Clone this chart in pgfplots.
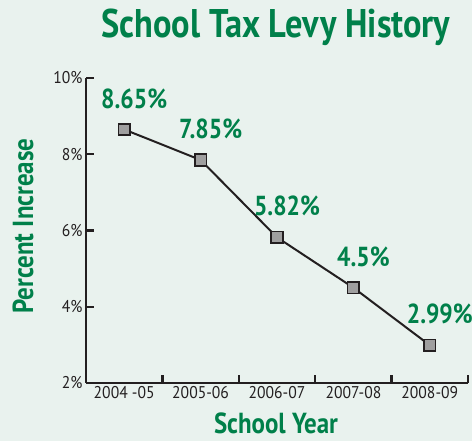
\documentclass[border=0pt]{standalone}
\usepackage{pgfplots}
\pgfplotsset{compat=1.18}
\usepackage{fontspec}
\setmainfont[FakeStretch=0.92]{PT Sans}
\newfontfamily\cond[FakeStretch=0.86]{PT Sans}
\definecolor{bgc}{HTML}{E9F2EE}
\definecolor{grn}{HTML}{00804A}
\definecolor{ink}{HTML}{231F20}
\begin{document}
\begin{tikzpicture}[x=1pt,y=1pt]
\useasboundingbox (0,0) rectangle (472,441);
\fill[bgc] (0,0) rectangle (472,441);
\begin{axis}[
  at={(86pt,58pt)}, anchor=south west,
  scale only axis, width=382pt, height=305pt,
  xmin=-0.5, xmax=4.5, ymin=2, ymax=10,
  axis x line=bottom, axis y line=left,
  axis line style={-, line width=2.2pt, color=ink},
  tick align=inside,
  major tick length=8pt,
  tick style={line width=2.2pt, color=ink},
  xtick={-0.5,0.5,1.5,2.5,3.5,4.5},
  x tick label as interval,
  xticklabels={2004 -05,2005-06,2006-07,2007-08,2008-09},
  ytick={2,4,6,8,10},
  yticklabel={\pgfmathprintnumber{\tick}\%},
  /pgf/number format/assume math mode=true,
  ticklabel style={font=\fontsize{17}{19}\selectfont, text=ink},
  clip=false,
  nodes near coords={\pgfmathprintnumber{\pgfplotspointmeta}\%},
  nodes near coords style={anchor=center, xshift=10pt, yshift=31pt,
     font=\cond\bfseries\fontsize{27.5}{30}\selectfont, text=grn},
]
\addplot[line width=2pt, color=ink, mark=square*,
  mark size=5.8pt,
  mark options={draw=ink, fill=gray!75!white, line width=1.7pt}]
  coordinates {(0,8.65) (1,7.85) (2,5.82) (3,4.5) (4,2.99)};
\end{axis}
\node[anchor=base, text=grn, font=\cond\bfseries\fontsize{40}{44}\selectfont] at (276,403) {School Tax Levy History};
\node[anchor=base, rotate=90, text=grn, font=\cond\bfseries\fontsize{29}{32}\selectfont] at (33,215) {Percent Increase};
\node[anchor=base, text=grn, font=\cond\bfseries\fontsize{29}{32}\selectfont] at (276,7.5) {School Year};
\end{tikzpicture}
\end{document}
